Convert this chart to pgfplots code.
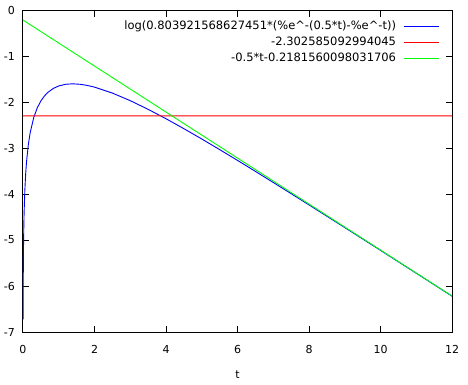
\documentclass[border=0pt]{standalone}
\usepackage{pgfplots}
\pgfplotsset{compat=1.18}
\usepackage{fontspec}
\setmainfont{DejaVu Sans}
\definecolor{gpblue}{RGB}{0,0,255}
\definecolor{gpred}{RGB}{255,0,0}
\definecolor{gpgreen}{RGB}{0,255,0}
\begin{document}
\fontsize{11.5}{13}\selectfont
\begin{tikzpicture}
\path[use as bounding box] (-23pt,-52pt) rectangle (445pt,332pt);
\begin{axis}[
  at={(0pt,0pt)}, anchor=south west,
  scale only axis, width=429pt, height=322pt,
  xmin=0, xmax=12, ymin=-7, ymax=0,
  xtick={0,2,...,12}, ytick={-7,-6,...,0},
  tick align=inside, major tick length=6.5pt,
  axis line style={line width=1pt, black},
  every tick/.style={black, line width=1pt},
  /pgf/number format/assume math mode=true,
  tick label style={font=\fontsize{11}{13}\selectfont},
  xticklabel style={yshift=-9pt},
  yticklabel style={xshift=-4pt},
  xlabel={t}, xlabel style={font=\fontsize{11}{13}\selectfont, yshift=-10pt},
  legend cell align=right,
  legend plot pos=right,
  legend style={draw=none, fill=none, inner sep=0pt, outer sep=0pt,
    at={(rel axis cs:0.9697,0.966)}, anchor=north east,
    font=\fontsize{11.5}{13}\selectfont,
    nodes={inner sep=0pt, text height=8.5pt, text depth=2.5pt},
    row sep=5pt, column sep=7pt},
  legend image code/.code={\draw[#1] (0pt,0pt) -- (35pt,0pt);},
]
\addplot[draw=gpblue, line width=0.9pt] coordinates {
(0.003,-6.7227) (0.005,-6.2134) (0.0075,-5.8098) (0.01,-5.5240) (0.015,-5.1223)
(0.02,-4.8384) (0.03,-4.4403) (0.05,-3.9445) (0.075,-3.5578) (0.1,-3.2888)
(0.15,-2.9207) (0.2,-2.6703) (0.3,-2.3393) (0.4,-2.1259) (0.5,-1.9768)
(0.6,-1.8684) (0.7,-1.7879) (0.85,-1.7038) (1.0,-1.6509) (1.2,-1.6140)
(1.386,-1.6045) (1.6,-1.6148) (1.8,-1.6400) (2,-1.6768) (2.5,-1.8057)
(3,-1.9706) (3.5,-2.1590) (4,-2.3636) (4.5,-2.5796) (5,-2.8038)
(5.5,-3.0342) (6,-3.2692) (6.5,-3.5077) (7,-3.7489) (7.5,-3.9920)
(8,-4.2368) (9,-4.7294) (10,-5.2249) (11,-5.7223) (12,-6.2207)
};
\addlegendentry{log(0.803921568627451*(\char37e\char94-(0.5*t)-\char37e\char94-t))}
\addplot[draw=gpred, line width=0.9pt] table {
x y
0 -2.30259
12 -2.30258
};
\addlegendentry{-2.302585092994045}
\addplot[draw=gpgreen, line width=0.9pt] coordinates {(0,-0.2181560098031706) (12,-6.2181560098031706)};
\addlegendentry{-0.5*t-0.2181560098031706}
\end{axis}
\end{tikzpicture}
\end{document}
